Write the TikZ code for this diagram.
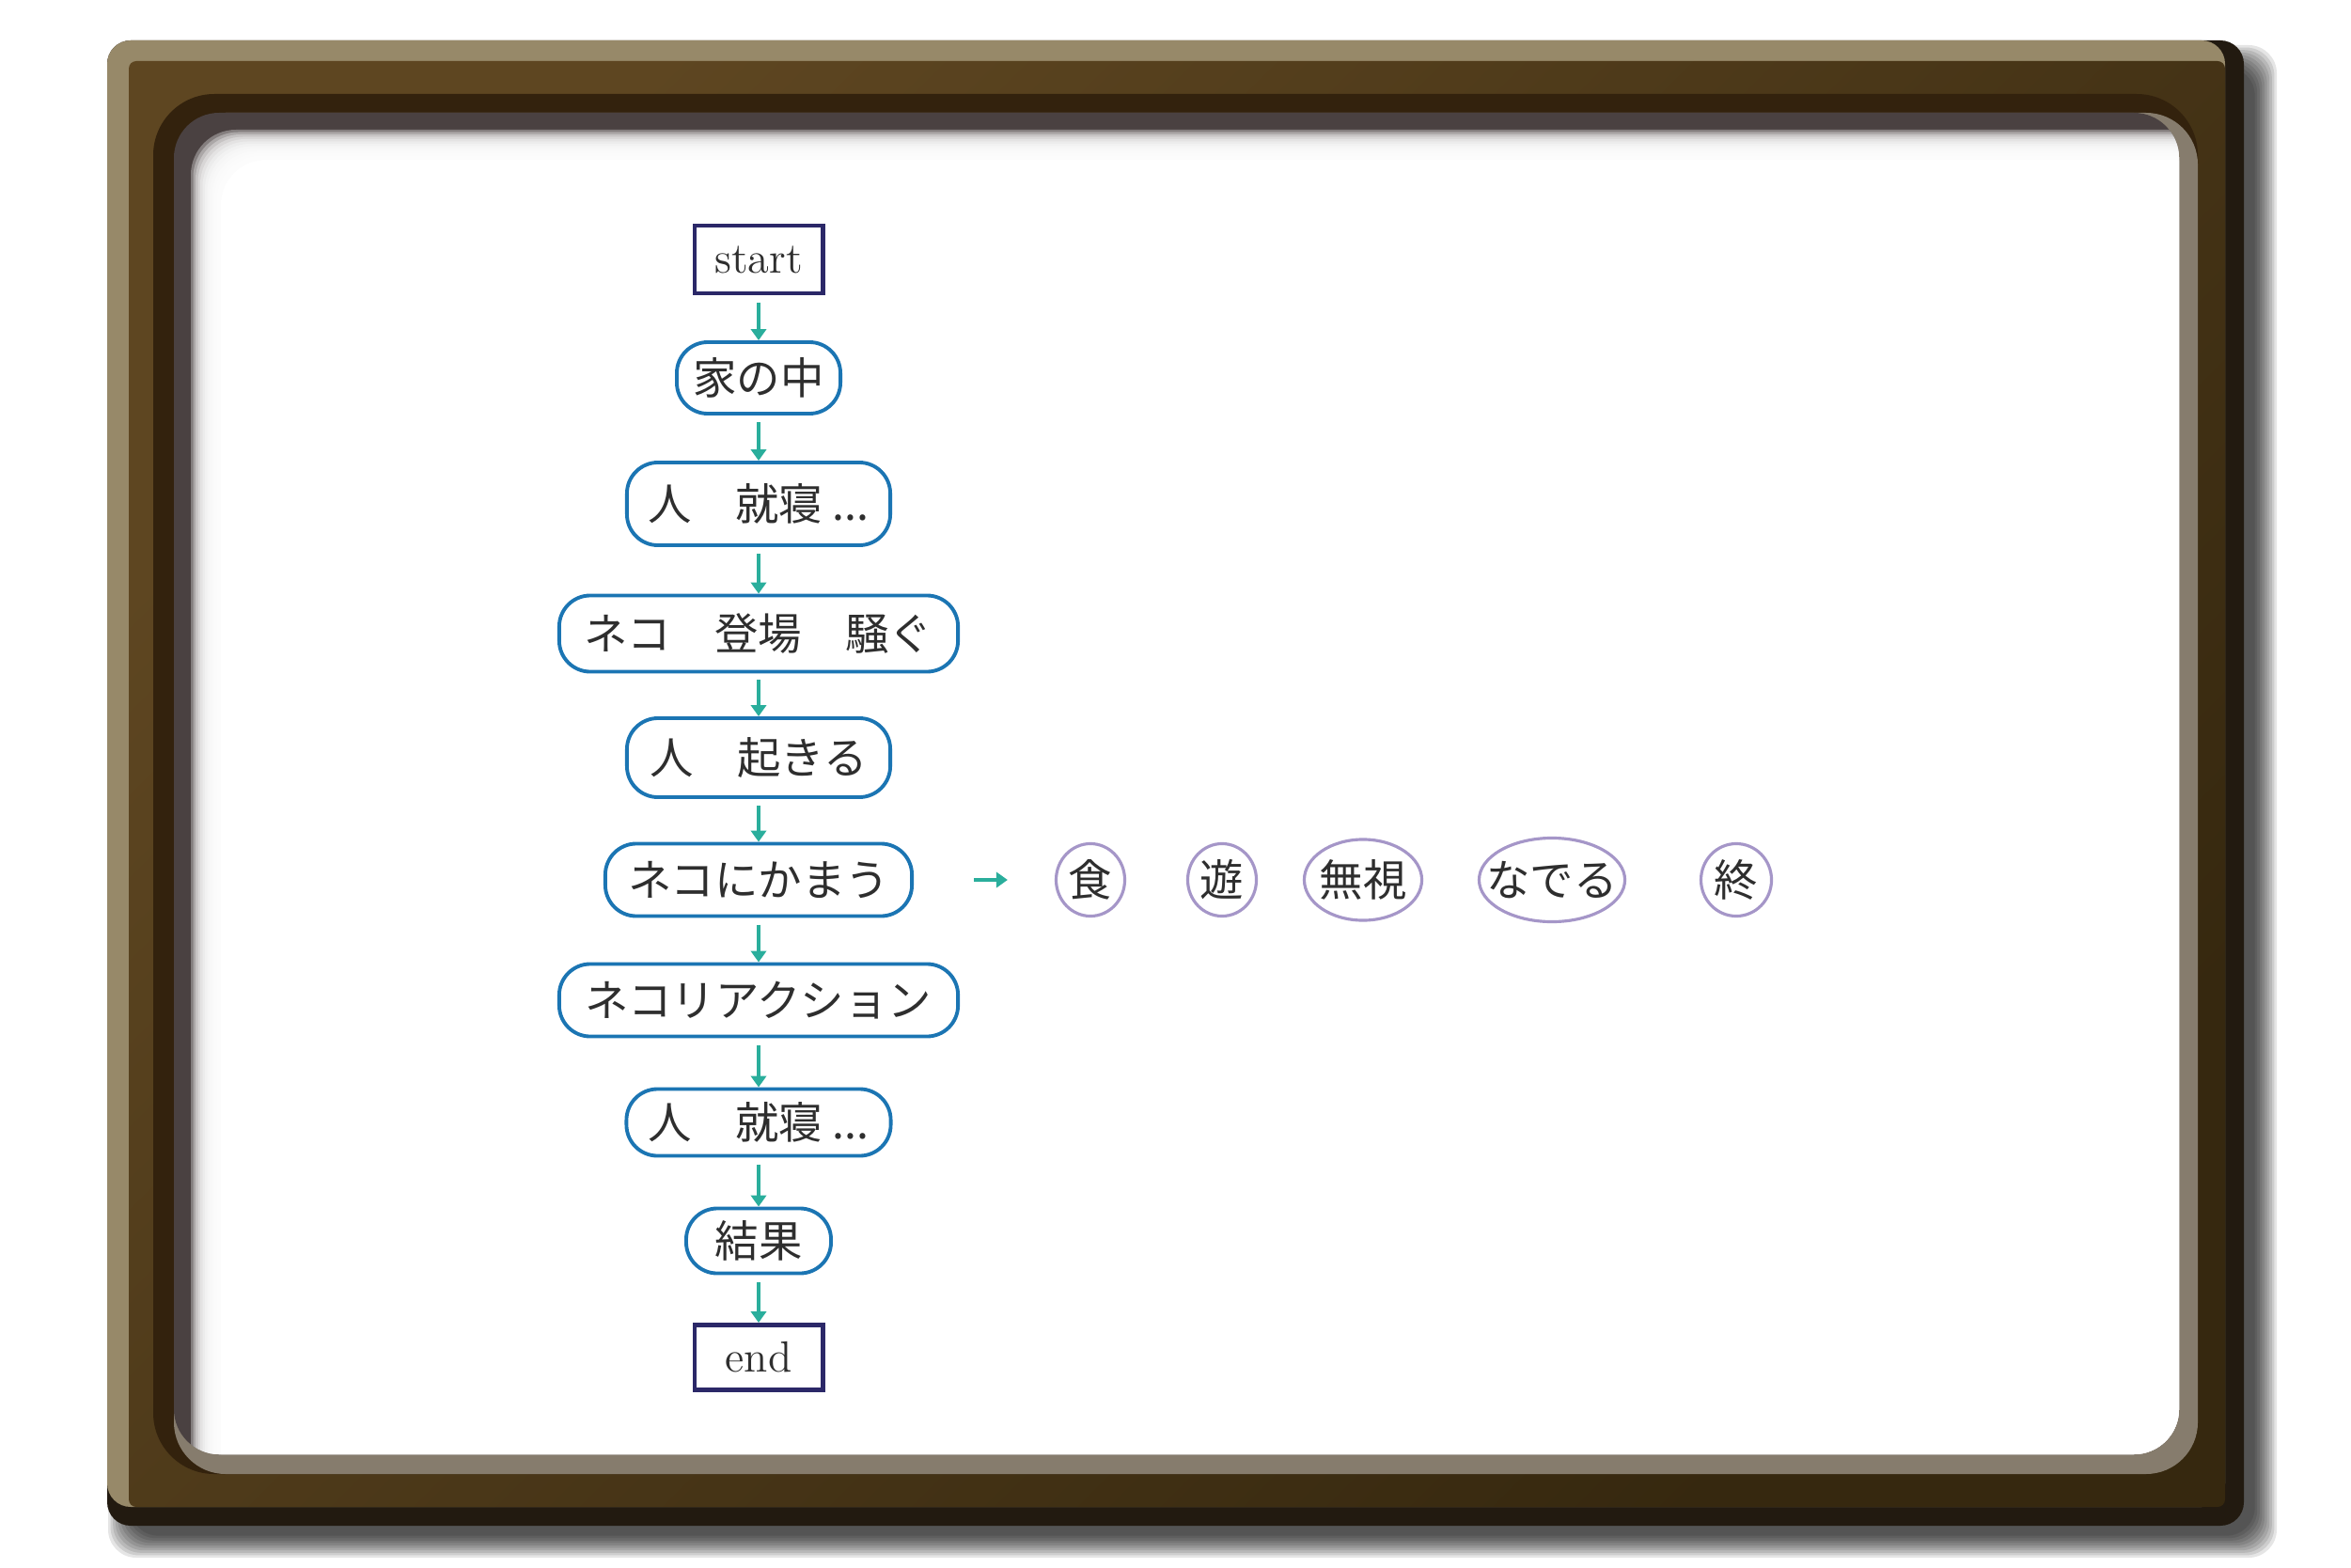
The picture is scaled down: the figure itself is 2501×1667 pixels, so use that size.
\documentclass[tikz,border=0pt]{standalone}
\usepackage{fontspec}
\newfontfamily\jpfam{Noto Sans CJK JP}
\usetikzlibrary{arrows.meta,shapes.geometric}
\definecolor{fdark}{HTML}{221A10}
\definecolor{flight}{HTML}{978969}
\definecolor{fbodyA}{HTML}{5E4621}
\definecolor{fbodyB}{HTML}{36280F}
\definecolor{fring}{HTML}{33220D}
\definecolor{fbevel}{HTML}{867C6D}
\definecolor{pshadow}{HTML}{4A4141}
\definecolor{nodeblue}{HTML}{1B75B3}
\definecolor{termblue}{HTML}{2B2868}
\definecolor{optpurple}{HTML}{A596C8}
\definecolor{arrteal}{HTML}{2AAE9C}
\definecolor{txtgray}{HTML}{2E2E2E}
\newcommand\myjp{\jpfam\fontsize{13.2}{15}\selectfont}
\newcommand\mylm{\fontsize{13.2}{15}\selectfont}
\tikzset{
  flow/.style={draw=nodeblue, line width=1.1pt, rounded corners=0.33cm, fill=white, inner sep=0pt, font=\myjp, text=txtgray},
  term/.style={draw=termblue, line width=1.4pt, fill=white, inner sep=0pt, font=\mylm, text=txtgray},
  opt/.style={ellipse, draw=optpurple, line width=0.9pt, fill=white, inner sep=-0.4cm, font=\myjp, text=txtgray},
  arr/.style={draw=arrteal, line width=1pt, -{Triangle[length=3.4pt,width=4.6pt]}, shorten <=2pt}
}
\begin{document}
\begin{tikzpicture}[x=0.01cm,y=-0.01cm]
\useasboundingbox (0,0) rectangle (2501,1667);
\fill[white] (0,0) rectangle (2501,1667);
% drop shadow
\foreach \k in {0,...,9}{
  \fill[black,opacity=0.1,rounded corners=0.3cm] ({115+2.6*\k},{48+2.6*\k}) rectangle ({2422-2.6*\k},{1657-2.6*\k});
}
% frame
\fill[fdark, rounded corners=0.25cm] (114,43) rectangle (2387,1623);
\fill[flight, rounded corners=0.25cm] (114,43) rectangle (2367,1603);
\shade[rounded corners=0.08cm, top color=fbodyA, bottom color=fbodyB, shading angle=45] (137,65) rectangle (2367,1603);
\fill[fring, rounded corners=0.65cm] (163,100) rectangle (2338,1568);
\fill[fbevel, rounded corners=0.55cm] (185,120) rectangle (2338,1568);
\fill[pshadow, rounded corners=0.48cm] (185,120) rectangle (2318,1547);
\begin{scope}
  \clip[rounded corners=0.48cm] (185,120) rectangle (2318,1547);
  \foreach \k in {0,...,11}{
    \fill[white,opacity=0.32,rounded corners=0.48cm] ({203+2.5*\k},{138+2.5*\k}) rectangle (2360,1590);
  }
  \fill[white,rounded corners=0.48cm] (235,170) rectangle (2360,1590);
\end{scope}
% flow nodes
\node[term, minimum width=1.36cm, minimum height=0.72cm] (start) at (807,276) {start};
\node[flow, minimum width=1.74cm, minimum height=0.76cm] (n1) at (807,402) {家の中};
\node[flow, minimum width=2.80cm, minimum height=0.88cm] (n2) at (807,536) {人　就寝 ...};
\node[flow, minimum width=4.24cm, minimum height=0.81cm] (n3) at (807,674) {ネコ　登場　騒ぐ};
\node[flow, minimum width=2.80cm, minimum height=0.84cm] (n4) at (807,806) {人　起きる};
\node[flow, minimum width=3.26cm, minimum height=0.77cm] (n5) at (807,936) {ネコにかまう};
\node[flow, minimum width=4.24cm, minimum height=0.77cm] (n6) at (807,1064) {ネコリアクション};
\node[flow, minimum width=2.81cm, minimum height=0.71cm] (n7) at (807,1194) {人　就寝 ...};
\node[flow, minimum width=1.54cm, minimum height=0.69cm] (n8) at (807,1320) {結果};
\node[term, minimum width=1.36cm, minimum height=0.69cm] (end) at (807,1444) {end};
% options
\node[opt, minimum width=0.73cm, minimum height=0.77cm] (e1) at (1160,936) {食};
\node[opt, minimum width=0.73cm, minimum height=0.77cm] (e2) at (1300,936) {遊};
\node[opt, minimum width=1.25cm, minimum height=0.86cm] (e3) at (1450,936) {無視};
\node[opt, minimum width=1.55cm, minimum height=0.89cm] (e4) at (1651,936) {なでる};
\node[opt, minimum width=0.75cm, minimum height=0.77cm] (e5) at (1847,936) {終};
% arrows
\draw[arr] (start) -- (n1);
\draw[arr] (n1) -- (n2);
\draw[arr] (n2) -- (n3);
\draw[arr] (n3) -- (n4);
\draw[arr] (n4) -- (n5);
\draw[arr] (n5) -- (n6);
\draw[arr] (n6) -- (n7);
\draw[arr] (n7) -- (n8);
\draw[arr] (n8) -- (end);
\draw[arr, shorten <=0.64cm, shorten >=0.50cm] (n5) -- (e1);
\end{tikzpicture}
\end{document}
